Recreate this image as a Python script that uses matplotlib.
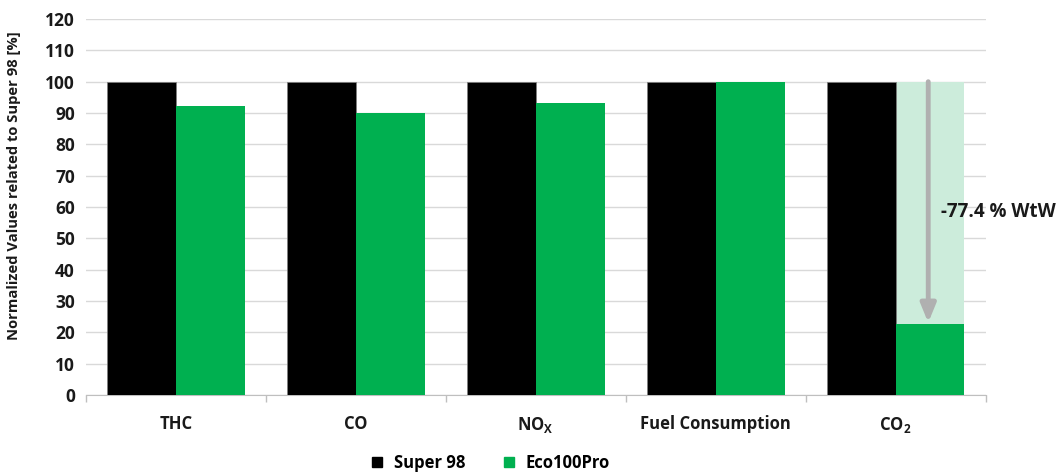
import matplotlib
matplotlib.use("Agg")
import matplotlib.pyplot as plt
import numpy as np
from matplotlib.lines import Line2D

FONT = 'Open Sans'
plt.rcParams['font.family'] = [FONT, 'DejaVu Sans']
plt.rcParams['font.weight'] = 'bold'
plt.rcParams['mathtext.fontset'] = 'custom'
plt.rcParams['mathtext.rm'] = FONT + ':bold'
plt.rcParams['mathtext.bf'] = FONT + ':bold'

categories = ["THC", "CO", "NO$_\\mathregular{X}$", "Fuel Consumption", "CO$_\\mathregular{2}$"]
super98 = [100, 100, 100, 100, 100]
eco100pro = [92.4, 90.1, 93.3, 99.8, 22.6]
series_names = ["Super 98", "Eco100Pro"]
yticks = list(range(0, 121, 10))
annotation = "-77.4 % WtW"

black = "#000000"
green = "#00b050"
light_green = "#ccecdb"
txt = "#1a1a1a"

fig = plt.figure(figsize=(10.62, 4.76), dpi=100)
ax = fig.add_axes([0.081, 0.170, 0.847, 0.790])

x = np.arange(len(categories))
w = 0.383
ax.bar(x - w/2, super98, width=w, color=black, edgecolor="#7f7f7f", linewidth=0.5, zorder=3)
ax.bar(x[-1] + w/2, super98[-1], width=w, color=light_green, linewidth=0, zorder=2)
ax.bar(x + w/2, eco100pro, width=w, color=green, linewidth=0, zorder=3)

ax.annotate("", xy=(x[-1] + w/2 - 0.01, eco100pro[-1] + 0.5), xytext=(x[-1] + w/2 - 0.01, super98[-1]),
            arrowprops=dict(arrowstyle="-|>,head_width=0.45,head_length=1.1", color="#b0b0b0", lw=3.5,
                            shrinkA=0, shrinkB=0), zorder=4)
ax.text(x[-1] + w/2 + 0.06, 58.5, annotation, fontsize=13.5, fontweight="bold", ha="left", va="center",
        color=txt, zorder=5)

ax.set_xlim(-0.5, len(categories) - 0.5)
ax.set_ylim(0, 120)
ax.set_yticks(yticks)
ax.set_yticklabels([str(t) for t in yticks], fontsize=12.5, fontweight="bold", color=txt)
ax.set_xticks(x)
ax.set_xticklabels(categories, fontsize=12, fontweight="bold", color=txt)
ax.tick_params(axis="x", length=0, pad=14)
ax.tick_params(axis="y", length=0, pad=8)
ax.set_xticks(np.arange(-0.5, len(categories)), minor=True)
ax.tick_params(axis="x", which="minor", length=5, color="#bfbfbf", width=1)

ax.grid(axis="y", color="#d9d9d9", linewidth=1, zorder=0)
ax.set_axisbelow(True)
for s in ["top", "right", "left"]:
    ax.spines[s].set_visible(False)
ax.spines["bottom"].set_color("#bfbfbf")

ax.set_ylabel("Normalized Values related to Super 98 [%]", fontsize=10.6, fontweight="bold",
              color=txt)
ax.yaxis.set_label_coords(-0.072, 0.558)

handles = [Line2D([], [], marker="s", linestyle="none", markersize=7, color=black),
           Line2D([], [], marker="s", linestyle="none", markersize=7, color=green)]
fig.legend(handles, series_names, loc="center", bbox_to_anchor=(0.457, 0.027), ncol=2, frameon=False,
           handletextpad=0.0, columnspacing=1.6, prop={'weight': 'bold', 'size': 12})

fig.savefig("out.png", dpi=100)
